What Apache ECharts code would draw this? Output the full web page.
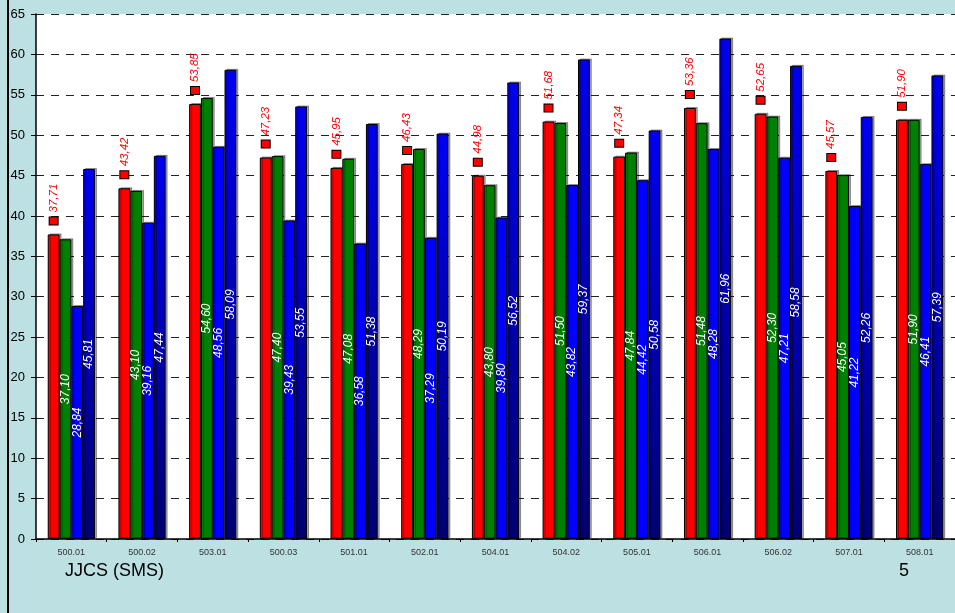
<!DOCTYPE html>
<html><head><meta charset="utf-8">
<script src="https://cdn.jsdelivr.net/npm/echarts@6/dist/echarts.min.js"></script>
<style>html,body{margin:0;padding:0;background:#BDE0E3;}#c{width:955px;height:613px;}</style>
</head><body><div id="c"></div>
<script>
const categories = ['500.01','500.02','503.01','500.03','501.01','502.01','504.01','504.02','505.01','506.01','506.02','507.01','508.01'];
const redValues   = [37.71,43.42,53.85,47.23,45.95,46.43,44.98,51.68,47.34,53.36,52.65,45.57,51.90];
const greenValues = [37.10,43.10,54.60,47.40,47.08,48.29,43.80,51.50,47.84,51.48,52.30,45.05,51.90];
const blueValues  = [28.84,39.16,48.56,39.43,36.58,37.29,39.80,43.82,44.42,48.28,47.21,41.22,46.41];
const navyValues  = [45.81,47.44,58.09,53.55,51.38,50.19,56.52,59.37,50.58,61.96,58.58,52.26,57.39];
const yTicks = [0,5,10,15,20,25,30,35,40,45,50,55,60,65];

const fmt = v => v.toFixed(2).replace('.', ',');
const FONT = 'Liberation Sans, Arial, sans-serif';
const shadow = {shadowColor:'rgba(0,0,0,0.35)', shadowOffsetX:2, shadowOffsetY:-1, shadowBlur:0};

function innerLabel() {
  return {show:true, position:'inside', rotate:90, color:'#fff', fontStyle:'italic',
    fontFamily:FONT, fontSize:12, formatter:p => fmt(p.value)};
}

const chart = echarts.init(document.getElementById('c'));
chart.setOption({
  backgroundColor:'#BDE0E3',
  animation:false,
  grid:{left:36, top:14, width:921, height:525, show:true, backgroundColor:'#fff', borderWidth:0},
  xAxis:{type:'category', data:categories,
    axisLine:{lineStyle:{color:'#000', width:1.5}},
    axisTick:{show:true, length:3, lineStyle:{color:'#000'}},
    axisLabel:{fontSize:9, color:'#333', fontFamily:FONT, margin:9}},
  yAxis:{type:'value', min:yTicks[0], max:yTicks[yTicks.length-1], interval:5,
    axisLine:{show:true, lineStyle:{color:'#000', width:1.5}},
    axisTick:{show:true, length:5, lineStyle:{color:'#000'}},
    axisLabel:{fontSize:13, color:'#000', fontFamily:FONT, margin:11},
    splitLine:{show:true, lineStyle:{color:'#222', type:[8,7], width:1}}},
  series:[
    {type:'bar', name:'r', data:redValues, barWidth:11.8, barGap:'0%',
      itemStyle:Object.assign({color:'#FF0000', borderColor:'#000', borderWidth:1}, shadow),
      label:{show:true, position:'top', rotate:90, distance:10, align:'left', verticalAlign:'middle',
        formatter:p => '{m|}{g|}{t|' + fmt(p.value) + '}',
        rich:{
          m:{width:7, height:8, backgroundColor:'#FF0000', borderColor:'#000', borderWidth:1},
          g:{width:5},
          t:{color:'#FF0000', fontStyle:'italic', fontFamily:FONT, fontSize:11.5}
        }}},
    {type:'bar', name:'g', data:greenValues, barWidth:11.8, barGap:'0%',
      itemStyle:Object.assign({color:'#008000', borderColor:'#000', borderWidth:1}, shadow),
      label:innerLabel()},
    {type:'bar', name:'b', data:blueValues, barWidth:11.8, barGap:'0%',
      itemStyle:Object.assign({color:'#0000FF', borderColor:'#000', borderWidth:1}, shadow),
      label:innerLabel()},
    {type:'bar', name:'n', data:navyValues, barWidth:11.8, barGap:'0%',
      itemStyle:Object.assign({color:new echarts.graphic.LinearGradient(0,0,0,1,[
        {offset:0, color:'#0000F2'},{offset:1, color:'#000070'}]), borderColor:'#000', borderWidth:1}, shadow),
      label:innerLabel()}
  ],
  graphic:[
    {type:'rect', left:7, top:0, shape:{width:2, height:613}, style:{fill:'#000'}},
    {type:'text', left:65, top:562, style:{text:'JJCS (SMS)', font:'18px ' + FONT, fill:'#000'}},
    {type:'text', left:899, top:562, style:{text:'5', font:'18px ' + FONT, fill:'#000'}}
  ]
});
</script></body></html>
